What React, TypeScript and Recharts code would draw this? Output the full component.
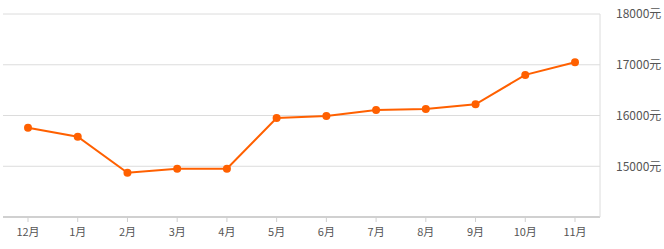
import React from "react"
import { CartesianGrid, Line, LineChart, XAxis, YAxis } from "recharts"

const months = ["12月", "1月", "2月", "3月", "4月", "5月", "6月", "7月", "8月", "9月", "10月", "11月"]
const prices = [15760, 15580, 14870, 14950, 14950, 15950, 15990, 16110, 16130, 16220, 16800, 17050]
const priceTicks = [14000, 15000, 16000, 17000, 18000]

const chartData = months.map((month, i) => ({ month, price: prices[i] }))

const ORANGE = "#ff6000"
const FONT = '"Noto Sans CJK SC", "Noto Sans", sans-serif'

export default function App() {
	return (
		<div style={{ position: "absolute", left: 0, top: 0, background: "#fff" }}>
			<LineChart
				width={664}
				height={249}
				data={chartData}
				margin={{ top: 14, right: 0, bottom: 0, left: 3 }}
			>
				<CartesianGrid vertical={false} stroke="#dcdcdc" />
				<XAxis
					dataKey="month"
					padding={{ left: 25, right: 25 }}
					axisLine={{ stroke: "#d0d0d0", strokeWidth: 2 }}
					tickLine={{ stroke: "#cfcfcf" }}
					tickSize={5}
					tickMargin={6}
					height={32}
					interval={0}
					tick={{ fill: "#555", fontSize: 11, fontFamily: FONT }}
				/>
				<YAxis
					orientation="right"
					domain={[14000, 18000]}
					ticks={priceTicks}
					width={64}
					axisLine={{ stroke: "#dcdcdc" }}
					tickLine={false}
					tickMargin={10}
					tickFormatter={(v: number) => (v === 14000 ? "" : `${v}元`)}
					tick={{ fill: "#555", fontSize: 12, fontFamily: FONT, textAnchor: "start" }}
				/>
				<Line
					type="linear"
					dataKey="price"
					stroke={ORANGE}
					strokeWidth={2}
					dot={{ r: 4, fill: ORANGE, stroke: ORANGE, strokeWidth: 0 }}
					activeDot={false}
					isAnimationActive={false}
				/>
			</LineChart>
		</div>
	)
}
